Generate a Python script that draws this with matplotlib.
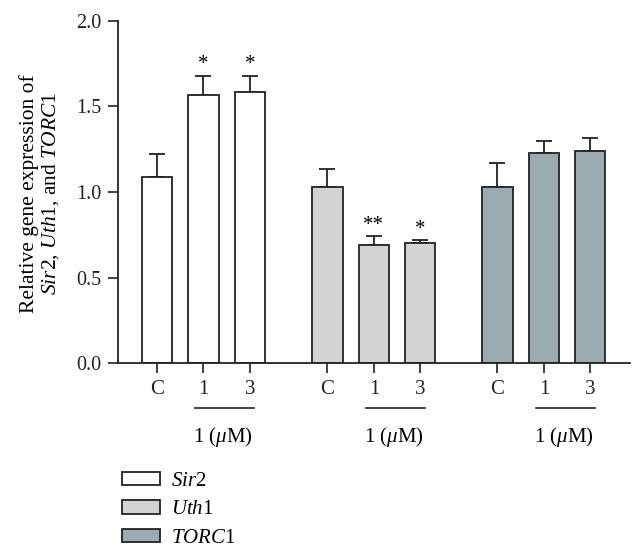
import matplotlib
matplotlib.use("Agg")
import matplotlib.pyplot as plt
from matplotlib.patches import Patch

plt.rcParams['font.family'] = ['Liberation Serif', 'DejaVu Serif']
plt.rcParams['mathtext.fontset'] = 'custom'
plt.rcParams['mathtext.rm'] = 'Liberation Serif'
plt.rcParams['mathtext.it'] = 'Liberation Serif:italic'

genes = ['$\\mathit{Sir2}$', '$\\mathit{Uth}$1', '$\\mathit{TORC}$1']
conditions = ['C', '1', '3']
group_label = '1 ($\\mu$M)'
sir2 = [1.086, 1.568, 1.582]
sir2_err = [0.136, 0.111, 0.097]
uth1 = [1.031, 0.692, 0.702]
uth1_err = [0.103, 0.049, 0.018]
torc1 = [1.027, 1.229, 1.237]
torc1_err = [0.140, 0.069, 0.076]
stars = [['', '*', '*'], ['', '**', '*'], ['', '', '']]
colors = ['#ffffff', '#d3d3d3', '#9aabb2']

values = [sir2, uth1, torc1]
errors = [sir2_err, uth1_err, torc1_err]

fig = plt.figure(figsize=(6.44, 5.55), dpi=100)
ax = fig.add_axes([0.1832, 0.3454, 0.7948, 0.6173])

offsets = [0.0, 3.67, 7.33]
edge = '#222222'
for g in range(3):
    xs = [offsets[g] + i for i in range(3)]
    ax.bar(xs, values[g], width=0.65, color=colors[g], edgecolor=edge, linewidth=1.3, zorder=2)
    ax.errorbar(xs, values[g], yerr=[[0, 0, 0], errors[g]], fmt='none', ecolor=edge,
                elinewidth=1.3, capsize=6, capthick=1.3, zorder=1)
    for i, x in enumerate(xs):
        if stars[g][i]:
            ax.annotate(stars[g][i], (x, values[g][i] + errors[g][i]), xytext=(0, 1),
                        textcoords='offset points', ha='center', va='bottom', fontsize=15)
    y_line = -0.261
    ax.plot([xs[1] - 0.18, xs[2] + 0.09], [y_line, y_line], color=edge, lw=1.2, clip_on=False)
    ax.text((xs[1] + xs[2]) / 2 - 0.08, -0.36, group_label, ha='center', va='top', fontsize=15)

ticks = [offsets[g] + i for g in range(3) for i in range(3)]
ax.set_xticks(ticks)
ax.set_xticklabels(conditions * 3, fontsize=15)
ax.set_xlim(-0.84, 10.18)
ax.set_ylim(0, 2.0)
ax.set_yticks([0.0, 0.5, 1.0, 1.5, 2.0])
ax.set_yticklabels(['0.0', '0.5', '1.0', '1.5', '2.0'], fontsize=14.5)
ax.tick_params(direction='out', length=7, width=1.2, colors=edge, labelcolor='#222222', pad=5)
for s in ['top', 'right']:
    ax.spines[s].set_visible(False)
for s in ['left', 'bottom']:
    ax.spines[s].set_linewidth(1.3)
    ax.spines[s].set_color(edge)

fig.text(0.062, 0.652, 'Relative gene expression of\n$\\mathit{Sir2}$, $\\mathit{Uth}$1, and $\\mathit{TORC}$1',
         rotation=90, ha='center', va='center', fontsize=15.5, linespacing=1.05)

handles = [Patch(facecolor=colors[g], edgecolor=edge, linewidth=1.3) for g in range(3)]
fig.legend(handles, genes, loc='upper left', bbox_to_anchor=(0.189, 0.150), frameon=False,
           fontsize=15, handlelength=1.83, handleheight=0.63, labelspacing=0.45, handletextpad=0.55,
           borderaxespad=0, borderpad=0)

fig.savefig('out.png', dpi=100)
